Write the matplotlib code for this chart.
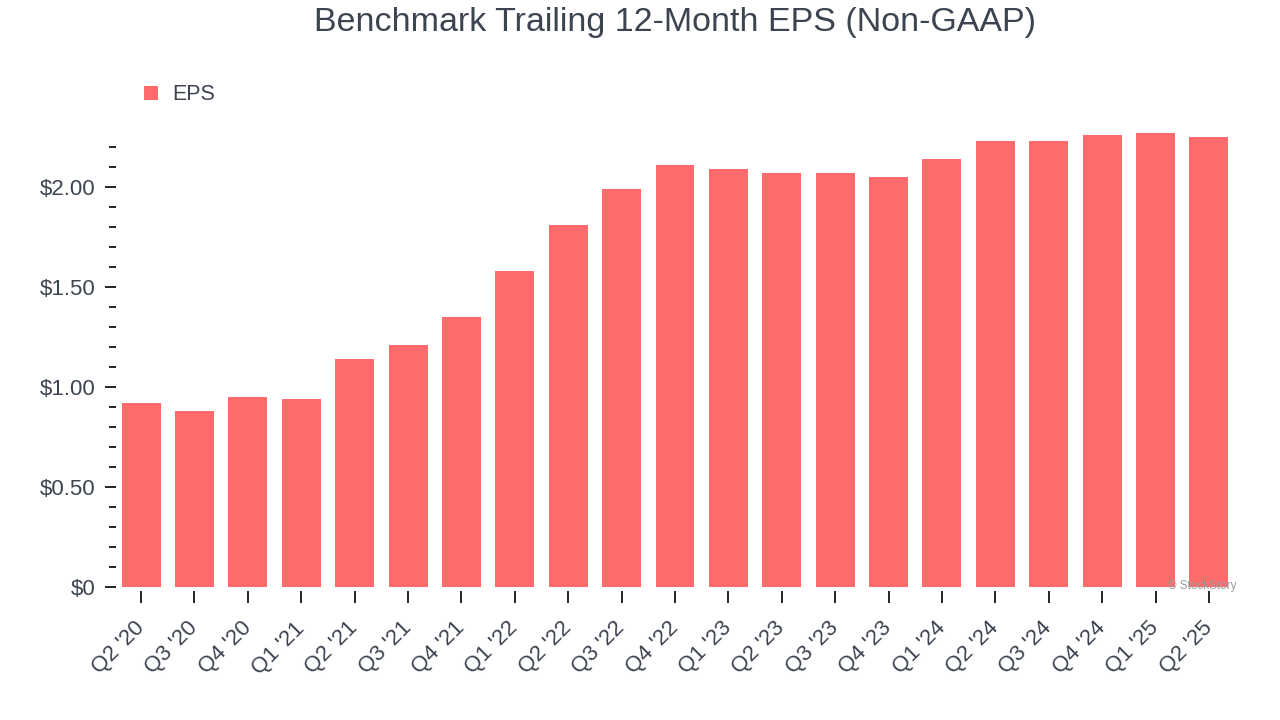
import matplotlib
matplotlib.use("Agg")
import matplotlib.pyplot as plt
import matplotlib.transforms as mtransforms
from matplotlib.ticker import MultipleLocator, FuncFormatter

quarters = ["Q2 '20", "Q3 '20", "Q4 '20", "Q1 '21", "Q2 '21", "Q3 '21", "Q4 '21",
            "Q1 '22", "Q2 '22", "Q3 '22", "Q4 '22", "Q1 '23", "Q2 '23", "Q3 '23",
            "Q4 '23", "Q1 '24", "Q2 '24", "Q3 '24", "Q4 '24", "Q1 '25", "Q2 '25"]
eps = [0.92, 0.88, 0.95, 0.94, 1.14, 1.21, 1.35, 1.58, 1.81, 1.99, 2.11, 2.09,
       2.07, 2.07, 2.05, 2.14, 2.23, 2.23, 2.26, 2.27, 2.25]

plt.rcParams['font.family'] = ['Liberation Sans', 'DejaVu Sans']
text_color = "#3d4451"
bar_color = "#ff6b6b"

fig = plt.figure(figsize=(12.8, 7.2), dpi=100)
ax = fig.add_axes([116/1280, 1 - 591/720, (1234-116)/1280, (591-128.7)/720])

x = list(range(len(quarters)))
ax.bar(x, eps, width=0.73, color=bar_color, label="EPS", zorder=2)

ax.set_xlim(-0.47, len(quarters) - 1 + 0.47)
ax.set_ylim(-0.02, 2.29)
ax.yaxis.set_major_locator(MultipleLocator(0.5))
ax.yaxis.set_minor_locator(MultipleLocator(0.1))
ax.yaxis.set_major_formatter(FuncFormatter(lambda v, p: "$0" if abs(v) < 1e-9 else f"${v:.2f}"))

for s in ax.spines.values():
    s.set_visible(False)

ax.set_xticks(x)
ax.set_xticklabels(quarters, rotation=45, ha="right", va="center",
                   rotation_mode="anchor", fontsize=16, color=text_color)
ax.tick_params(axis="x", length=8.6, width=1.2, color="black", pad=16)
ax.tick_params(axis="y", which="major", length=8, width=1.2, color="black",
               labelsize=16, labelcolor=text_color, pad=6.5)
ax.tick_params(axis="y", which="minor", length=5, width=1.2, color="black")

title_tr = mtransforms.blended_transform_factory(ax.transAxes, fig.transFigure)
fig.text(0.5, 1 - 23/720, "Benchmark Trailing 12-Month EPS (Non-GAAP)",
         transform=title_tr, ha="center", va="center", fontsize=24.5,
         color=text_color)

leg = ax.legend(loc="upper left", bbox_to_anchor=(125/1280, 1 - 65/720),
                bbox_transform=fig.transFigure, frameon=False, fontsize=15.5,
                handlelength=0.62, handleheight=0.62, handletextpad=0.66)
for t in leg.get_texts():
    t.set_color(text_color)

fig.text(1236/1280, 1 - 586/720, "© StockStory", ha="right", va="center",
         fontsize=8.5, color="#999999")

fig.savefig("out.png", dpi=100)
